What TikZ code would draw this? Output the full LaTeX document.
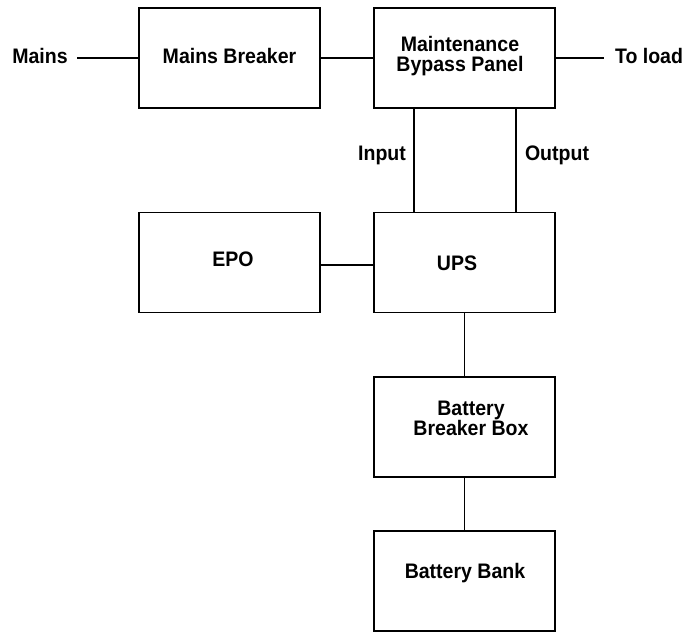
\documentclass[tikz,border=0pt]{standalone}
\usepackage{fontspec}
\setmainfont{Liberation Sans}[FakeStretch=0.93]
\begin{document}
\begin{tikzpicture}[x=1pt,y=-1pt,
  box/.style={draw,line width=1.6pt,minimum width=181pt,minimum height=100pt,inner sep=0pt},
  txt/.style={font=\bfseries\fontsize{21}{20}\selectfont,align=center,inner sep=0pt},
  wire/.style={line width=1.6pt}]
\useasboundingbox (0,0) rectangle (691,632);
\node[box] (mb) at (229.5,58) {};
\node[box] (mbp) at (464.5,58) {};
\node[box] (epo) at (229.5,262.5) {};
\node[box] (ups) at (464.5,262.5) {};
\node[box] (bbb) at (464.5,427) {};
\node[box] (bank) at (464.5,581) {};
\node[txt] (tmb) at (229.5,56) {Mains Breaker};
\node[txt] (tmbp) at (460,56) {Maintenance\\Bypass Panel};
\node[txt] (tepo) at (233,259) {EPO};
\node[txt] (tups) at (457,263) {UPS};
\node[txt] (tbbb) at (471,418) {Battery\\Breaker Box};
\node[txt] (tbank) at (465,573) {Battery Bank};
\node[txt] (mains) at (40,56) {Mains};
\node[txt] (load) at (649,56) {To load};
\node[txt] (in) at (382,155) {Input};
\node[txt] (out) at (557,155) {Output};
\coordinate (ms) at (77,58);
\coordinate (ld) at (604,58);
\draw[wire] (ms) -- (mb.west);
\draw[wire] (mb.east) -- (mbp.west);
\draw[wire] (mbp.east) -- (ld);
\draw[wire] ([xshift=-50.5pt]mbp.south) -- ([xshift=-50.5pt]ups.north);
\draw[wire] ([xshift=51.5pt]mbp.south) -- ([xshift=51.5pt]ups.north);
\draw[wire] ([yshift=-2.5pt]epo.east) -- ([yshift=-2.5pt]ups.west);
\draw[wire] (ups.south) -- (bbb.north);
\draw[wire] (bbb.south) -- (bank.north);
\end{tikzpicture}
\end{document}
